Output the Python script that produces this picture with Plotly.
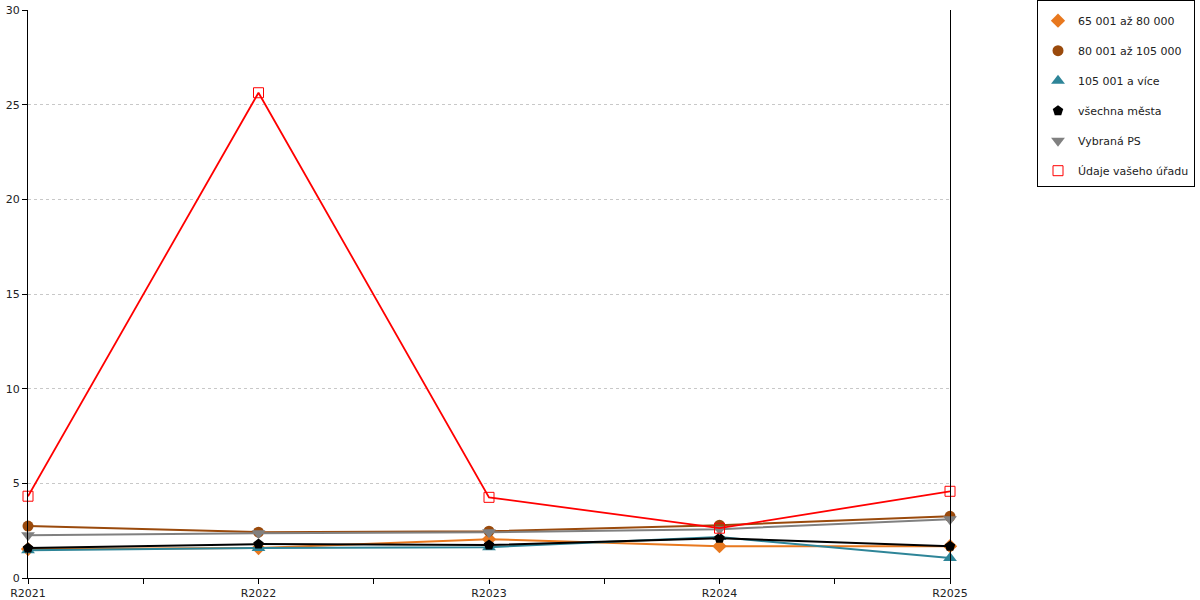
import plotly.graph_objects as go

years = ["R2021", "R2022", "R2023", "R2024", "R2025"]

s_65_80 = [1.53, 1.58, 2.05, 1.68, 1.68]
s_80_105 = [2.74, 2.42, 2.47, 2.79, 3.26]
s_105 = [1.47, 1.58, 1.63, 2.16, 1.05]
s_all = [1.58, 1.79, 1.74, 2.10, 1.68]
s_ps = [2.26, 2.37, 2.42, 2.58, 3.10]
s_urad = [4.32, 25.63, 4.26, 2.63, 4.58]

series = [
    ("65 001 až 80 000", s_65_80, "#E8781E", "diamond", 11),
    ("80 001 až 105 000", s_80_105, "#9A4A0C", "circle", 11),
    ("105 001 a více", s_105, "#2E8598", "triangle-up", 12),
    ("všechna města", s_all, "#000000", "pentagon", 11),
    ("Vybraná PS", s_ps, "#808080", "triangle-down", 12),
    ("Údaje vašeho úřadu", s_urad, "#FF0000", "square-open", 10),
]

xs = list(range(len(years)))

W, H = 1200, 600

fig = go.Figure()
for i, (name, vals, col, sym, sz) in enumerate(series):
    fig.add_trace(go.Scatter(
        x=xs, y=vals, name=name, mode="lines+markers",
        line=dict(color=col, width=2 if i < 5 else 1.8),
        marker=dict(symbol=sym, size=sz, color=col),
        cliponaxis=False, showlegend=False,
    ))
for i, (name, vals, col, sym, sz) in enumerate(series):
    fig.add_trace(go.Scatter(
        x=[None], y=[None], name=name, mode="markers",
        marker=dict(symbol=sym, size=sz, color=col),
        legendgroup=f"g{i}", showlegend=True,
    ))

tickvals = [i * 0.5 for i in range(9)]
ticktext = [years[int(v)] if v == int(v) else "" for v in tickvals]

fig.update_layout(
    width=W, height=H,
    margin=dict(l=28, r=250, t=10, b=22, autoexpand=False),
    paper_bgcolor="white", plot_bgcolor="white",
    font=dict(family="DejaVu Sans", size=11, color="#222222"),
    showlegend=True,
    legend=dict(
        xref="container", yref="container",
        x=1037 / W, y=1.0, xanchor="left", yanchor="top",
        bordercolor="#000000", borderwidth=1, bgcolor="white",
        font=dict(size=11), tracegroupgap=11,
        itemwidth=30,
        title=dict(text=" ", font=dict(size=4)),
    ),
    xaxis=dict(
        range=[0, 4], tickvals=tickvals, ticktext=ticktext,
        ticks="outside", ticklen=5, tickcolor="#000", showgrid=False,
        showline=True, linecolor="#000", linewidth=1, zeroline=False,
        ticklabelstandoff=0,
    ),
    yaxis=dict(
        range=[0, 30], dtick=5, ticks="outside", ticklen=5, tickcolor="#000",
        showgrid=True, gridcolor="#C8C8C8", griddash="dot", gridwidth=1,
        showline=True, linecolor="#000", linewidth=1, mirror=True,
        zeroline=False,
    ),
)

fig.write_html("out.html", config={"displayModeBar": False},
               post_script="document.body.style.margin='0px';")
